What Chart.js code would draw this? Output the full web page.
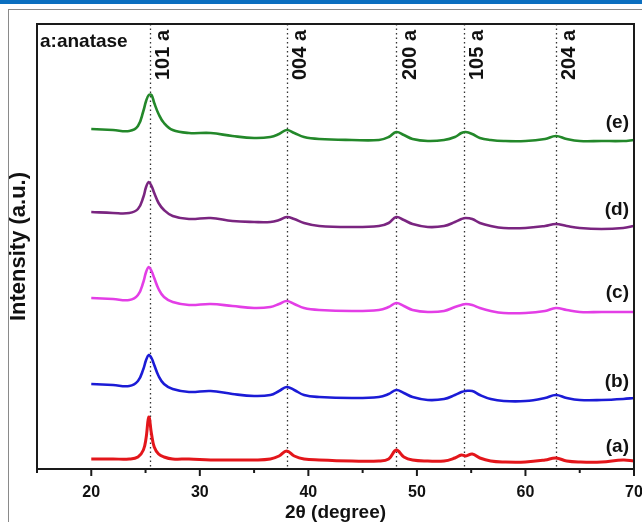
<!DOCTYPE html>
<html>
<head>
<meta charset="utf-8">
<script src="https://cdn.jsdelivr.net/npm/chart.js@4.4.1/dist/chart.umd.min.js"></script>
<style>
  html, body { margin: 0; padding: 0; background: #fff; overflow: hidden; }
  #topbar { position: absolute; left: 0; top: 0; width: 642px; height: 4px; background: #0b6fc0; }
  #panel { position: absolute; left: 8px; top: 9px; width: 640px; height: 520px;
           border-left: 1px solid #8a8a8a; border-top: 1px solid #8a8a8a; }
  #chart { position: absolute; left: 0; top: 0; }
</style>
</head>
<body>
<div id="topbar"></div>
<div id="panel"></div>
<canvas id="chart" width="642" height="522"></canvas>
<script>
// 2-theta grid (degree) shared by all patterns
const angles = [20, 22, 23.5, 24.3, 24.8, 25.05, 25.3, 25.55, 25.8, 26.2, 26.7, 27.5,
  29, 31, 33, 35, 36.5, 37.3, 38.0, 38.7, 39.6, 41, 44, 46.5, 47.4, 48.1, 48.8, 49.6,
  51, 52.5, 53.5, 54.1, 54.5, 55.1, 55.8, 56.8, 58, 60, 61.8, 62.8, 63.8, 65, 67, 69, 70];

// intensities (a.u.), patterns stacked as in the figure
const sampleA = [10, 10, 10, 12, 19, 31, 52, 35, 22, 15, 12, 10,
  10, 9, 9, 9, 10, 13, 18, 13, 10, 9, 8, 8, 10, 19, 12, 9,
  8, 8, 11, 14, 13, 15, 11, 8, 7, 7, 9, 11, 8, 7, 7, 9, 8];
const sampleB = [85, 84, 83, 88, 100, 109, 114, 111, 104, 93, 85, 80,
  77, 78, 75, 73, 74, 78, 82, 79, 74, 72, 71, 72, 75, 79, 76, 72,
  69, 70, 74, 77, 78, 78, 74, 70, 68, 68, 71, 74, 71, 69, 69, 70, 71];
const sampleC = [171, 170, 169, 174, 187, 197, 202, 198, 191, 180, 172, 167,
  164, 165, 163, 161, 162, 165, 168, 165, 161, 159, 158, 159, 162, 166, 163, 159,
  157, 158, 162, 164, 165, 164, 161, 158, 156, 156, 158, 161, 159, 157, 157, 157, 157];
const sampleD = [257, 256, 256, 260, 272, 282, 287, 283, 276, 266, 259, 253,
  250, 251, 248, 247, 247, 249, 252, 250, 246, 243, 242, 243, 246, 252, 249, 245,
  242, 243, 247, 250, 251, 250, 246, 243, 241, 241, 243, 245, 243, 241, 240, 241, 243];
const sampleE = [340, 339, 338, 343, 358, 368, 374, 374, 366, 355, 346, 339,
  336, 336, 333, 331, 332, 335, 339, 336, 332, 330, 329, 329, 332, 337, 334, 330,
  328, 329, 332, 336, 337, 335, 331, 329, 328, 328, 330, 333, 330, 328, 328, 328, 329];

const sampleNames = ['(a)', '(b)', '(c)', '(d)', '(e)'];
const sampleLevels = [22, 87, 176, 259, 346];   // where each name sits (a.u.)
const peakAngles = [25.4, 38.0, 48.1, 54.3, 62.8];
const peakNames = ['101 a', '004 a', '200 a', '105 a', '204 a'];
const xTickLabels = [20, 30, 40, 50, 60, 70];

const colors = ['#e3161b', '#1b1bd6', '#e33ee6', '#7a2580', '#23882a'];
const series = [sampleA, sampleB, sampleC, sampleD, sampleE];
const FONT = '"Liberation Sans", Arial, sans-serif';

const xrdExtras = {
  id: 'xrdExtras',
  beforeDatasetsDraw(chart) {
    const {ctx, chartArea: area, scales: {x}} = chart;
    ctx.save();
    ctx.strokeStyle = '#333';
    ctx.lineWidth = 1.3;
    ctx.setLineDash([1.5, 3]);
    peakAngles.forEach(p => {
      const px = Math.round(x.getPixelForValue(p)) + 0.5;
      ctx.beginPath();
      ctx.moveTo(px, area.top);
      ctx.lineTo(px, area.bottom);
      ctx.stroke();
    });
    ctx.restore();
  },
  afterDatasetsDraw(chart) {
    const {ctx, chartArea: area, scales: {x, y}} = chart;
    ctx.save();
    // frame
    ctx.strokeStyle = '#1a1a1a';
    ctx.lineWidth = 2;
    ctx.strokeRect(area.left, area.top, area.right - area.left, area.bottom - area.top);
    // outward ticks, long ones at labelled values
    x.ticks.forEach(t => {
      const px = x.getPixelForValue(t.value);
      const len = xTickLabels.includes(t.value) ? 7 : 4;
      ctx.beginPath();
      ctx.moveTo(px, area.bottom);
      ctx.lineTo(px, area.bottom + len);
      ctx.stroke();
    });

    ctx.fillStyle = '#111';
    ctx.font = 'bold 19px ' + FONT;
    ctx.textBaseline = 'middle';
    ctx.textAlign = 'left';
    ctx.fillText('a:anatase', area.left + 3, area.top + 18);

    // peak indices, rotated
    ctx.font = 'bold 20px ' + FONT;
    peakAngles.forEach((p, i) => {
      ctx.save();
      ctx.translate(x.getPixelForValue(p) + 14, area.top + 6);
      ctx.rotate(-Math.PI / 2);
      ctx.textAlign = 'right';
      ctx.fillText(peakNames[i], 0, 0);
      ctx.restore();
    });

    // sample names
    ctx.font = 'bold 19px ' + FONT;
    ctx.textAlign = 'right';
    sampleNames.forEach((n, i) => {
      ctx.fillText(n, area.right - 5, y.getPixelForValue(sampleLevels[i]));
    });
    ctx.restore();
  }
};

new Chart(document.getElementById('chart'), {
  type: 'line',
  data: {
    datasets: series.map((s, i) => ({
      label: sampleNames[i],
      data: angles.map((a, k) => ({x: a, y: s[k]})),
      borderColor: colors[i],
      borderWidth: i === 0 ? 3 : 2.6,
      pointRadius: 0,
      tension: 0.4,
      fill: false
    }))
  },
  options: {
    responsive: false,
    animation: false,
    layout: { padding: { top: 24, right: 8, left: 0, bottom: 0 } },
    plugins: { legend: { display: false }, tooltip: { enabled: false } },
    scales: {
      x: {
        type: 'linear',
        min: 15,
        max: 70,
        afterFit: s => { s.height = 53; s.paddingLeft = 0; s.paddingRight = 0; },
        grid: { display: false, drawTicks: false },
        border: { display: false },
        ticks: {
          stepSize: 5,
          autoSkip: false,
          maxRotation: 0,
          padding: 14,
          color: '#111',
          font: { family: FONT, size: 16, weight: 'bold' },
          callback: v => xTickLabels.includes(v) ? String(v) : ''
        },
        title: {
          display: true,
          text: '2θ (degree)',
          color: '#111',
          padding: { top: 0, bottom: 0 },
          font: { family: FONT, size: 19, weight: 'bold', lineHeight: 1 }
        }
      },
      y: {
        min: 0,
        max: 445,
        afterFit: s => { s.width = 37; s.paddingTop = 0; s.paddingBottom = 0; },
        grid: { display: false, drawTicks: false },
        border: { display: false },
        ticks: { display: false },
        title: {
          display: true,
          text: 'Intensity (a.u.)',
          color: '#111',
          padding: { top: 8, bottom: 0 },
          font: { family: FONT, size: 22, weight: 'bold', lineHeight: 1 }
        }
      }
    }
  },
  plugins: [xrdExtras]
});
</script>
</body>
</html>
